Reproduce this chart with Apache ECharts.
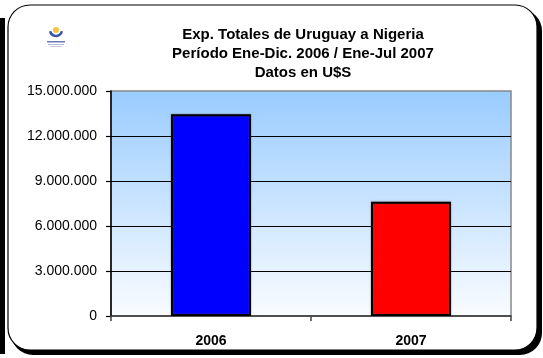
<!DOCTYPE html>
<html>
<head>
<meta charset="utf-8">
<script src="https://cdn.jsdelivr.net/npm/echarts@6/dist/echarts.min.js"></script>
<style>
  html, body { margin: 0; padding: 0; background: #fff; }
  #chart { width: 543px; height: 358px; }
</style>
</head>
<body>
<div id="chart"></div>
<script>
// Exportaciones totales de Uruguay a Nigeria (U$S)
const years = ['2006', '2007'];
const exportsUSD = [13450000, 7620000];
const barColors = ['#0000FF', '#FF0000'];
const titleLines = [
  'Exp. Totales de Uruguay a Nigeria',
  'Período Ene-Dic. 2006 / Ene-Jul 2007',
  'Datos en U$S'
];
const yMin = 0, yMax = 15000000, yStep = 3000000;

const fmtMiles = v => String(Math.round(v)).replace(/\B(?=(\d{3})+(?!\d))/g, '.');

const chart = echarts.init(document.getElementById('chart'), null, { renderer: 'canvas' });

chart.setOption({
  animation: false,
  backgroundColor: '#fff',
  textStyle: { fontFamily: 'Liberation Sans, Arial, sans-serif' },
  title: {
    text: titleLines.join('\n'),
    left: 298,
    top: 20,
    textAlign: 'center',
    textStyle: {
      fontFamily: 'Liberation Sans, Arial, sans-serif',
      fontSize: 15,
      fontWeight: 'bold',
      color: '#000',
      lineHeight: 19
    }
  },
  graphic: [
    // marco de la página de la izquierda
    { type: 'rect', shape: { x: 0, y: 18, width: 5, height: 336 }, style: { fill: '#000' }, z: 0 },
    // sombra del recuadro
    { type: 'rect', shape: { x: 11, y: 9, width: 531, height: 346, r: 22 }, style: { fill: '#000' }, z: 0 },
    // recuadro
    { type: 'rect', shape: { x: 8, y: 5, width: 529, height: 345, r: 22 }, style: { fill: '#fff', stroke: '#000', lineWidth: 1.2 }, z: 1 },
    // logotipo
    { type: 'circle', shape: { cx: 56, cy: 30, r: 3 }, style: { fill: '#F5C242' }, z: 2 },
    { type: 'arc', shape: { cx: 56, cy: 30, r: 6, startAngle: 0.2, endAngle: Math.PI - 0.2 }, style: { stroke: '#3A55A8', lineWidth: 2.5, fill: null }, z: 2 },
    { type: 'rect', shape: { x: 47, y: 41, width: 18, height: 1.5 }, style: { fill: '#6A7BB8' }, z: 2 },
    { type: 'rect', shape: { x: 48, y: 44, width: 16, height: 1 }, style: { fill: '#B5BCD8' }, z: 2 },
    { type: 'rect', shape: { x: 50, y: 46, width: 12, height: 1 }, style: { fill: '#C8CDE2' }, z: 2 }
  ],
  grid: {
    left: 111,
    right: 32,
    top: 91,
    bottom: 42,
    show: true,
    borderColor: '#888',
    borderWidth: 1.5,
    backgroundColor: new echarts.graphic.LinearGradient(0, 0, 0, 1, [
      { offset: 0, color: '#99CCFF' },
      { offset: 1, color: '#FAFCFF' }
    ]),
    z: 2
  },
  xAxis: {
    type: 'category',
    data: years,
    boundaryGap: true,
    axisLine: { lineStyle: { color: '#333', width: 1.5 } },
    axisTick: { show: true, alignWithLabel: false, length: 5, lineStyle: { color: '#444', width: 1.5 } },
    axisLabel: {
      color: '#000',
      fontSize: 14,
      fontWeight: 'bold',
      margin: 18,
      fontFamily: 'Liberation Sans, Arial, sans-serif'
    },
    splitLine: { show: false },
    z: 3
  },
  yAxis: {
    type: 'value',
    min: yMin,
    max: yMax,
    interval: yStep,
    axisLine: { show: true, lineStyle: { color: '#000', width: 1.5 } },
    axisTick: { show: true, length: 5, lineStyle: { color: '#000', width: 1.2 } },
    axisLabel: {
      color: '#000',
      fontSize: 14,
      margin: 14,
      formatter: fmtMiles,
      fontFamily: 'Liberation Sans, Arial, sans-serif'
    },
    splitLine: { show: true, showMinLine: false, showMaxLine: false, lineStyle: { color: '#000', width: 1.2 } },
    z: 3
  },
  series: [{
    type: 'bar',
    data: exportsUSD.map((v, i) => ({ value: v, itemStyle: { color: barColors[i] } })),
    barWidth: '40%',
    itemStyle: { borderColor: '#000', borderWidth: 2, shadowColor: 'rgba(90,90,90,0.6)', shadowBlur: 2 },
    z: 4
  }]
});
</script>
</body>
</html>
